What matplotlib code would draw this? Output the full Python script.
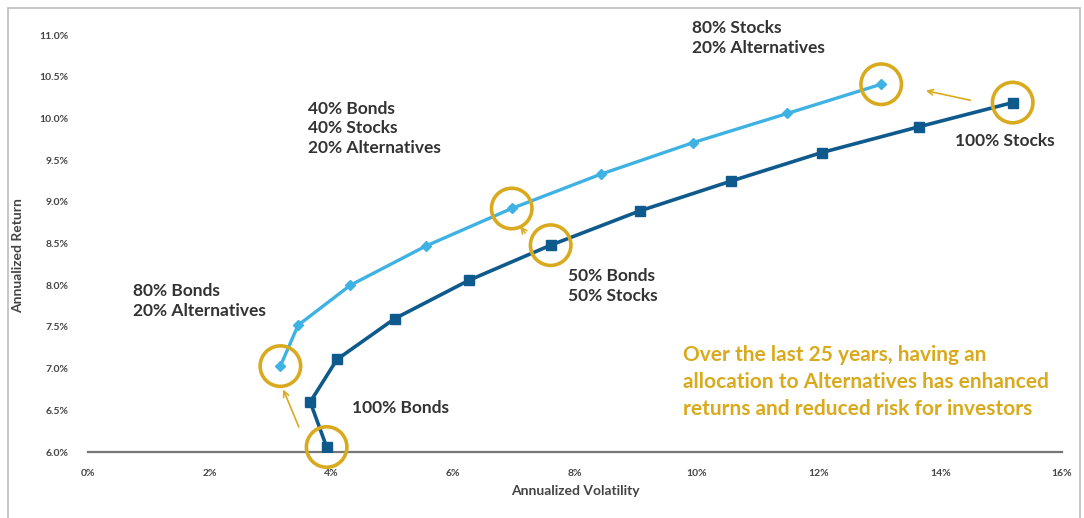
import matplotlib.pyplot as plt
from matplotlib.patches import Rectangle

# Efficient frontier data
stocks_bonds_vol = [3.92, 3.65, 4.09, 5.04, 6.26, 7.60, 9.06, 10.57, 12.05, 13.65, 15.19]
stocks_bonds_ret = [6.06, 6.60, 7.11, 7.60, 8.06, 8.48, 8.89, 9.25, 9.59, 9.90, 10.19]

with_alts_vol = [3.16, 3.45, 4.31, 5.55, 6.96, 8.42, 9.94, 11.49, 13.03]
with_alts_ret = [7.03, 7.52, 8.00, 8.47, 8.92, 9.33, 9.71, 10.06, 10.41]

x_ticks = [0, 2, 4, 6, 8, 10, 12, 14, 16]
y_ticks = [6.0, 6.5, 7.0, 7.5, 8.0, 8.5, 9.0, 9.5, 10.0, 10.5, 11.0]

dark_blue = '#0f5a8c'
light_blue = '#3fb2e4'
gold = '#d9aa1e'
text_col = '#333333'

plt.rcParams['font.family'] = ['Lato', 'DejaVu Sans']

fig = plt.figure(figsize=(10.84, 5.18), dpi=100)
ax = fig.add_axes([0.0812, 0.1274, 0.8985, 0.805])

ax.plot(stocks_bonds_vol, stocks_bonds_ret, color=dark_blue, lw=2.6,
        marker='s', markersize=7, zorder=3)
ax.plot(with_alts_vol, with_alts_ret, color=light_blue, lw=2.4,
        marker='D', markersize=5, zorder=3)

# gold circles around highlighted portfolios
hl_x = [stocks_bonds_vol[0], stocks_bonds_vol[5], stocks_bonds_vol[-1],
        with_alts_vol[0], with_alts_vol[4], with_alts_vol[-1]]
hl_y = [stocks_bonds_ret[0], stocks_bonds_ret[5], stocks_bonds_ret[-1],
        with_alts_ret[0], with_alts_ret[4], with_alts_ret[-1]]
ax.scatter(hl_x, hl_y, s=850, facecolors='none', edgecolors=gold,
           linewidths=2.6, zorder=4, clip_on=False)

# arrows from stock/bond portfolios to the ones with alternatives
arrow_kw = dict(arrowstyle='->', color=gold, lw=1.2)
ax.annotate('', xy=(3.19, 6.78), xytext=(3.48, 6.27), arrowprops=arrow_kw)
ax.annotate('', xy=(13.72, 10.34), xytext=(14.54, 10.21), arrowprops=arrow_kw)
ax.annotate('', xy=(7.07, 8.73), xytext=(7.21, 8.60), arrowprops=arrow_kw)

lbl = dict(fontsize=12.5, fontweight='bold', color=text_col, linespacing=1.3,
           va='center', ha='left', clip_on=False)
ax.text(9.92, 10.96, '80% Stocks\n20% Alternatives', **lbl)
ax.text(3.62, 9.88, '40% Bonds\n40% Stocks\n20% Alternatives', **lbl)
ax.text(0.74, 7.81, '80% Bonds\n20% Alternatives', **lbl)
ax.text(7.88, 7.99, '50% Bonds\n50% Stocks', **lbl)
ax.text(4.34, 6.53, '100% Bonds', **lbl)
ax.text(14.24, 9.73, '100% Stocks', **lbl)

ax.text(9.77, 6.84, 'Over the last 25 years, having an\n'
        'allocation to Alternatives has enhanced\n'
        'returns and reduced risk for investors',
        fontsize=15, fontweight='bold', color=gold, linespacing=1.45,
        va='center', ha='left')

ax.set_xlim(0, 16)
ax.set_ylim(6.0, 11.0)
ax.set_xticks(x_ticks)
ax.set_xticklabels([f'{v}%' for v in x_ticks])
ax.set_yticks(y_ticks)
ax.set_yticklabels([f'{v:.1f}%' for v in y_ticks])
ax.tick_params(length=0, labelsize=7.5, labelcolor='#444444')
ax.tick_params(axis='y', pad=14)
ax.tick_params(axis='x', pad=12)
for lab in ax.get_xticklabels() + ax.get_yticklabels():
    lab.set_fontweight('bold')

for side in ['top', 'right', 'left']:
    ax.spines[side].set_visible(False)
ax.spines['bottom'].set_color('#777777')
ax.spines['bottom'].set_linewidth(1.6)

ax.set_xlabel('Annualized Volatility', fontsize=10, fontweight='bold',
              color='#444444', labelpad=5)
ax.set_ylabel('Annualized Return', fontsize=10, fontweight='bold',
              color='#444444')
ax.yaxis.set_label_coords(-0.066, 0.47)

# outer frame of the exhibit
fig.patches.append(Rectangle((8 / 1084, -0.02), 1072 / 1084, 1 - 8 / 518 + 0.02,
                             transform=fig.transFigure, fill=False,
                             edgecolor='#bbbbbb', lw=1.2))

fig.savefig('out.png', dpi=100)
